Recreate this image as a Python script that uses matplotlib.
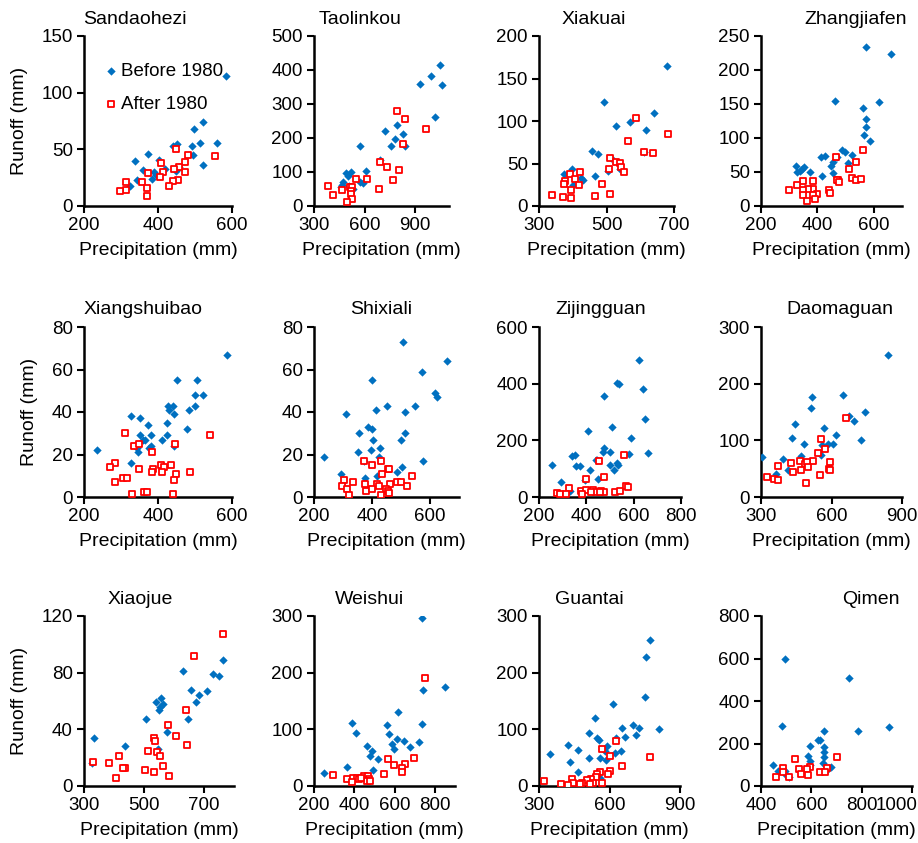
import matplotlib
matplotlib.use("Agg")
import matplotlib.pyplot as plt
from matplotlib.transforms import ScaledTranslation

plt.rcParams['font.family'] = ['Liberation Sans', 'DejaVu Sans']

# ----- Data (precipitation mm, runoff mm) -----
sandaohezi_before = (
    [583, 521, 498, 559, 513, 493, 440, 452, 374, 337, 402, 495, 521, 359, 388, 395, 384, 343, 323, 418, 448, 457],
    [115, 74, 68, 56, 56, 53, 53, 55, 46, 40, 41, 45, 36, 32, 30, 27, 24, 23, 18, 33, 31, 34])
sandaohezi_after = (
    [448, 481, 409, 474, 472, 456, 444, 413, 406, 372, 554, 454, 440, 431, 356, 370, 369, 314, 313, 297],
    [50, 45, 38, 39, 30, 34, 33, 30, 26, 29, 44, 23, 22, 18, 21, 16, 9, 21, 14, 13])

taolinkou_before = (
    [1044, 991, 926, 1060, 1017, 791, 722, 827, 779, 759, 842, 571, 692, 609, 589, 571, 518, 492, 504, 474, 468, 458, 508, 530],
    [414, 382, 358, 357, 261, 239, 220, 211, 196, 176, 177, 177, 136, 102, 67, 71, 101, 97, 89, 71, 62, 55, 60, 50])
taolinkou_after = (
    [791, 837, 965, 829, 692, 732, 805, 769, 615, 546, 684, 385, 411, 468, 514, 526, 518, 522, 524, 494],
    [279, 256, 227, 182, 130, 114, 107, 77, 78, 78, 50, 58, 32, 48, 57, 57, 45, 34, 20, 12])

xiakuai_before = (
    [678, 494, 641, 570, 528, 617, 458, 474, 611, 513, 399, 374, 466, 504, 540, 429, 424, 402],
    [165, 122, 110, 99, 94, 89, 65, 61, 64, 56, 44, 38, 35, 41, 43, 31, 33, 25])
xiakuai_after = (
    [586, 682, 564, 611, 637, 509, 529, 540, 543, 553, 508, 422, 392, 378, 407, 418, 375, 487, 396, 339, 370, 394, 466, 510],
    [103, 85, 76, 64, 62, 57, 52, 51, 46, 40, 43, 40, 38, 30, 32, 25, 26, 26, 19, 13, 11, 10, 12, 14])

zhangjiafen_before = (
    [572, 661, 462, 617, 562, 572, 571, 566, 585, 489, 497, 522, 411, 428, 469, 507, 456, 448, 323, 353, 344, 337, 329, 374, 456, 416],
    [234, 223, 155, 153, 144, 128, 116, 105, 96, 82, 80, 75, 72, 74, 72, 63, 65, 59, 59, 57, 55, 52, 50, 50, 49, 44])
zhangjiafen_after = (
    [562, 467, 536, 513, 473, 522, 468, 475, 536, 556, 385, 349, 329, 385, 365, 348, 300, 400, 442, 445, 349, 383, 392, 362],
    [83, 72, 65, 55, 38, 41, 38, 35, 38, 39, 37, 37, 31, 25, 25, 24, 23, 18, 23, 19, 16, 16, 10, 8])

xiangshuibao_before = (
    [587, 451, 506, 499, 522, 426, 440, 429, 484, 499, 443, 328, 350, 424, 372, 478, 350, 381, 424, 359, 365, 410, 375, 381, 343, 443, 234, 346, 326],
    [67, 55, 55, 48, 48, 43, 43, 41, 41, 43, 39, 38, 37, 35, 34, 32, 29, 29, 29, 27, 27, 27, 23, 24, 23, 24, 22, 21, 16])
xiangshuibao_after = (
    [541, 312, 446, 336, 348, 383, 284, 271, 348, 408, 417, 434, 387, 412, 384, 449, 487, 305, 317, 284, 442, 330, 362, 371, 440],
    [29, 30, 25, 24, 25, 21, 16, 14, 13, 15, 14, 15, 13, 12, 12, 11, 12, 9, 9, 7, 8, 1.5, 2.5, 2.5, 1.5])

shixiali_before = (
    [508, 660, 572, 399, 618, 625, 450, 548, 413, 515, 310, 386, 399, 514, 356, 499, 402, 427, 395, 353, 423, 233, 577, 372, 503, 485, 292, 418, 377],
    [73, 64, 59, 55, 49, 47, 43, 43, 41, 40, 39, 33, 32, 30, 30, 27, 27, 23, 22, 21, 19, 19, 17, 17, 14, 12, 11, 10, 9])
shixiali_after = (
    [371, 430, 401, 456, 460, 433, 539, 305, 334, 416, 376, 462, 487, 499, 519, 295, 315, 380, 401, 424, 447, 454, 459, 319, 431],
    [17, 17, 15, 13, 13, 11, 10, 8, 7, 6, 6, 6, 7, 7, 5, 5, 4, 3, 4, 5, 4, 3, 2, 1, 1])

zijingguan_before = (
    [621, 529, 537, 641, 474, 648, 408, 508, 590, 473, 470, 498, 580, 662, 341, 350, 439, 446, 529, 535, 500, 254, 358, 375, 415, 518, 449, 394, 294, 330],
    [485, 403, 399, 382, 358, 274, 233, 246, 209, 174, 160, 160, 153, 156, 145, 148, 132, 129, 120, 114, 113, 113, 109, 109, 97, 94, 62, 59, 54, 22])
zijingguan_after = (
    [558, 452, 476, 400, 327, 379, 400, 428, 439, 463, 474, 521, 544, 566, 577, 276, 287, 312, 383, 421, 456],
    [147, 128, 69, 65, 32, 20, 25, 25, 19, 22, 19, 18, 21, 40, 37, 13, 9, 9, 9, 18, 19])

daomaguan_before = (
    [840, 650, 518, 513, 741, 675, 697, 445, 569, 619, 434, 727, 483, 608, 583, 560, 306, 395, 472, 555, 414, 365],
    [251, 180, 177, 157, 150, 143, 134, 129, 122, 109, 104, 101, 94, 94, 94, 91, 70, 67, 73, 74, 47, 40])
daomaguan_after = (
    [660, 555, 572, 543, 522, 467, 487, 427, 594, 497, 498, 373, 470, 588, 594, 436, 327, 354, 371, 553, 490],
    [140, 103, 84, 77, 64, 64, 59, 60, 61, 61, 53, 54, 48, 50, 47, 45, 35, 31, 30, 39, 25])

xiaojue_before = (
    [763, 731, 751, 629, 709, 656, 684, 675, 556, 539, 562, 553, 549, 506, 646, 576, 334, 438, 545, 326],
    [89, 79, 78, 81, 67, 68, 64, 59, 62, 59, 58, 56, 54, 47, 47, 38, 34, 28, 26, 16])
xiaojue_after = (
    [764, 666, 639, 581, 606, 534, 537, 644, 512, 543, 553, 417, 331, 384, 438, 431, 562, 502, 533, 407, 583],
    [107, 92, 54, 43, 35, 34, 32, 29, 25, 24, 21, 21, 17, 16, 13, 13, 14, 11, 10, 6, 7])

weishui_before = (
    [738, 850, 743, 619, 390, 736, 563, 410, 573, 614, 646, 588, 721, 678, 596, 462, 489, 480, 518, 495, 362, 248],
    [297, 174, 170, 131, 112, 110, 107, 93, 92, 83, 79, 75, 77, 69, 66, 70, 62, 53, 47, 28, 34, 23])
weishui_after = (
    [753, 565, 695, 598, 652, 639, 635, 547, 296, 365, 395, 411, 421, 448, 469, 474, 390, 461, 479, 435],
    [191, 48, 49, 37, 39, 31, 24, 22, 19, 13, 14, 15, 12, 18, 18, 12, 7, 8, 8, 14])

guantai_before = (
    [771, 756, 751, 617, 539, 702, 727, 652, 811, 713, 512, 546, 554, 628, 664, 590, 425, 466, 581, 625, 648, 347, 558, 511, 586, 434, 468, 416, 560],
    [258, 227, 157, 145, 120, 107, 103, 103, 101, 90, 93, 85, 82, 85, 86, 71, 73, 63, 62, 58, 62, 56, 50, 49, 46, 42, 24, 2, 15])
guantai_after = (
    [628, 570, 600, 773, 652, 604, 593, 558, 546, 541, 522, 505, 442, 567, 529, 484, 444, 395, 321, 475, 423, 518],
    [79, 66, 53, 51, 35, 26, 22, 25, 21, 16, 13, 11, 13, 6, 6, 5, 5, 3, 8, 3, 2, 3])

qimen_before = (
    [495, 751, 482, 907, 786, 650, 627, 636, 596, 650, 649, 651, 587, 593, 646, 446, 595, 677, 667, 466, 495, 498, 513],
    [600, 509, 282, 279, 260, 260, 216, 218, 186, 185, 161, 136, 141, 117, 106, 100, 97, 88, 82, 72, 72, 52, 44])
qimen_after = (
    [534, 702, 486, 550, 596, 581, 664, 489, 558, 587, 633, 653, 460, 511],
    [125, 136, 86, 80, 88, 78, 85, 67, 55, 53, 64, 64, 42, 42])

titles = ['Sandaohezi', 'Taolinkou', 'Xiakuai', 'Zhangjiafen',
          'Xiangshuibao', 'Shixiali', 'Zijingguan', 'Daomaguan',
          'Xiaojue', 'Weishui', 'Guantai', 'Qimen']
befores = [sandaohezi_before, taolinkou_before, xiakuai_before, zhangjiafen_before,
           xiangshuibao_before, shixiali_before, zijingguan_before, daomaguan_before,
           xiaojue_before, weishui_before, guantai_before, qimen_before]
afters = [sandaohezi_after, taolinkou_after, xiakuai_after, zhangjiafen_after,
          xiangshuibao_after, shixiali_after, zijingguan_after, daomaguan_after,
          xiaojue_after, weishui_after, guantai_after, qimen_after]

# axis ranges: (xmin, xmax, xstep), (ymax, ystep)
xlims = [(200, 600, 200), (300, 1100, 300), (300, 700, 200), (200, 700, 200),
         (200, 600, 200), (200, 700, 200), (200, 800, 200), (300, 900, 300),
         (300, 800, 200), (200, 900, 200), (300, 900, 300), (400, 1000, 200)]
ylims = [(150, 50), (500, 100), (200, 50), (250, 50),
         (80, 20), (80, 20), (600, 200), (300, 100),
         (120, 40), (300, 100), (300, 100), (800, 200)]

# ----- Figure -----
W, H = 918, 843
fig = plt.figure(figsize=(W / 100, H / 100), dpi=100)

lefts = [84, 314, 539, 761]
widths = [148, 135, 135, 141,
          148, 145, 142, 141,
          150, 141, 141, 151]
tops = [36, 327, 616]
ax_h = 170
# title centres (figure px), Excel-style titles are not centred on the axes
title_x = [135, 360, 594, 856,
           143, 381, 601, 840,
           140, 370, 589, 871]

blue = '#0070C0'
red = '#FF0000'

for i in range(12):
    r, c = divmod(i, 4)
    w = widths[i]
    ax = fig.add_axes([lefts[c] / W, 1 - (tops[r] + ax_h) / H, w / W, ax_h / H])
    bx, by = befores[i]
    axx, ayy = afters[i]
    ax.scatter(bx, by, marker='D', s=18, color=blue, linewidths=0, zorder=3,
               label='Before 1980')
    ax.scatter(axx, ayy, marker='s', s=18, facecolors='white', edgecolors=red,
               linewidths=1.3, zorder=4, label='After 1980')

    x0, x1, xs = xlims[i]
    ym, ys = ylims[i]
    ax.set_xlim(x0, x1)
    ax.set_ylim(0, ym)
    ax.set_xticks(range(x0, x1 + 1, xs))
    ax.set_yticks(range(0, ym + 1, ys))

    for sp in ('top', 'right'):
        ax.spines[sp].set_visible(False)
    for sp in ('left', 'bottom'):
        ax.spines[sp].set_linewidth(1.8)
    ax.tick_params(direction='out', length=5, width=1.5, labelsize=13.5, pad=3)
    tx = (title_x[i] - lefts[c]) / w
    ax.set_title(titles[i], fontsize=14, pad=9, x=tx)
    ax.set_xlabel('Precipitation (mm)', fontsize=14, labelpad=6)
    if c == 0:
        ax.set_ylabel('Runoff (mm)', fontsize=14, labelpad=10)
    if i == 0:
        ax.legend(loc='upper left', frameon=False, fontsize=13.5,
                  handletextpad=0.25, handlelength=0.6, labelspacing=0.85,
                  borderaxespad=0.2, bbox_to_anchor=(0.068, 0.906))
    if i == 11:
        # keep the last x tick label inside the figure
        lab = ax.get_xticklabels()[-1]
        lab.set_horizontalalignment('right')
        lab.set_transform(lab.get_transform() + ScaledTranslation(5 / 100, 0, fig.dpi_scale_trans))

fig.savefig('out.png', dpi=100)
